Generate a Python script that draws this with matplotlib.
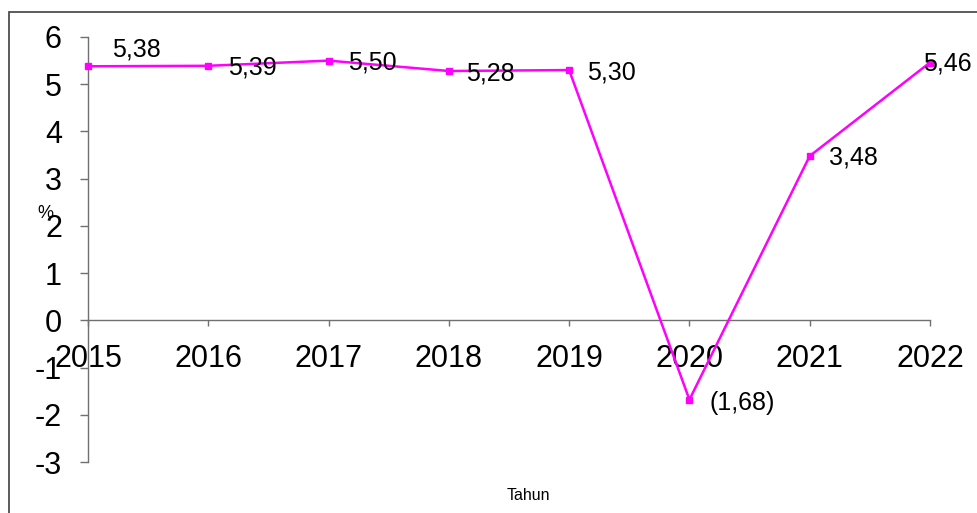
import matplotlib
matplotlib.use("Agg")
import matplotlib.pyplot as plt
from matplotlib.patches import Rectangle

plt.rcParams["font.family"] = ["Liberation Sans", "DejaVu Sans"]

# data
years = ["2015", "2016", "2017", "2018", "2019", "2020", "2021", "2022"]
growth = [5.38, 5.39, 5.50, 5.28, 5.30, -1.68, 3.48, 5.46]
value_labels = ["5,38", "5,39", "5,50", "5,28", "5,30", "(1,68)", "3,48", "5,46"]
y_ticks = [-3, -2, -1, 0, 1, 2, 3, 4, 5, 6]

# label offsets in pixels (dx, dy upward) relative to each point
label_offsets = [(24, 17), (20, -2), (19, -2), (17, -2), (18, -2), (20, -3), (19, -2), (-7, -1)]

DPI = 100
W, H = 977, 513
fig = plt.figure(figsize=(W / DPI, H / DPI), dpi=DPI)
ax = fig.add_axes([88 / W, 1 - 462 / H, (930 - 88) / W, (462 - 37) / H])

xs = list(range(len(years)))
ax.plot(xs, growth, color="#ff00ff", linewidth=1.8, marker="s", markersize=4.5,
        markerfacecolor="#ff00ff", markeredgecolor="#ff00ff", clip_on=False, zorder=3)

px2pt = 72 / DPI
for x, y, lab, (dx, dy) in zip(xs, growth, value_labels, label_offsets):
    ax.annotate(lab, (x, y), xytext=(dx * px2pt, dy * px2pt), textcoords="offset points",
                ha="left", va="center", fontsize=18, color="black", zorder=4)

ax.set_xlim(0, len(years) - 1)
ax.set_ylim(-3, 6)
ax.set_xticks(xs)
ax.set_xticklabels(years)
ax.set_yticks(y_ticks)
ax.set_yticklabels([str(t) for t in y_ticks])

spine_color = "#707070"
for s in ["top", "right"]:
    ax.spines[s].set_visible(False)
ax.spines["bottom"].set_position(("data", 0))
ax.spines["bottom"].set_color(spine_color)
ax.spines["left"].set_color(spine_color)
ax.spines["bottom"].set_linewidth(1.0)
ax.spines["left"].set_linewidth(1.0)

ax.tick_params(axis="x", direction="out", length=6 * px2pt, width=1.0, color=spine_color,
               pad=13, labelsize=22)
ax.tick_params(axis="y", direction="out", length=8 * px2pt, width=1.0, color=spine_color,
               pad=13, labelsize=22)

fig.text(45 / W, 1 - 213 / H, "%", ha="center", va="center", fontsize=13)
fig.text(528 / W, 1 - 495 / H, "Tahun", ha="center", va="center", fontsize=11.5)

# outer chart border (only left and top edges visible in the frame)
fig.add_artist(Rectangle((9 / W, -0.2), 1.2, 1.2 - 12 / H, transform=fig.transFigure,
                         fill=False, edgecolor="#404040", linewidth=1.2))

fig.savefig("out.png", dpi=DPI)
